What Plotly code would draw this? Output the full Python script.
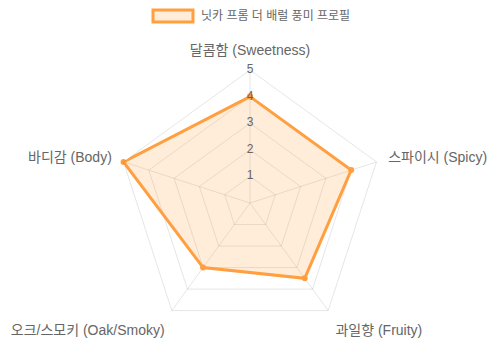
import plotly.graph_objects as go

categories = ["달콤함 (Sweetness)", "스파이시 (Spicy)", "과일향 (Fruity)", "오크/스모키 (Oak/Smoky)", "바디감 (Body)"]
values = [4, 4, 3.5, 3, 5]
series_name = "닛카 프롬 더 배럴 풍미 프로필"
tick_values = [1, 2, 3, 4, 5]
tick_labels = ["1", "2", "3", "4", "5"]

FONT = "Liberation Sans, Arial, Noto Sans CJK KR, sans-serif"
ORANGE = "rgb(255,159,64)"
FILL = "rgba(255,159,64,0.2)"
GRID = "rgba(0,0,0,0.1)"

# page body has an 8px margin; figure is sized to fit the window
OFF = 8
W, H = 500 - OFF, 357 - OFF


def px(x):
    return (x - OFF) / W


def py(y):
    return 1 - (y - OFF) / H


fig = go.Figure()
fig.add_trace(go.Scatterpolar(
    r=values + values[:1],
    theta=categories + categories[:1],
    mode="lines+markers",
    fill="toself",
    fillcolor=FILL,
    line=dict(color=ORANGE, width=3),
    marker=dict(color=ORANGE, size=6),
    name=series_name,
    showlegend=False,
    hoverinfo="skip",
))
fig.add_trace(go.Scatterpolar(
    r=tick_values,
    theta=[categories[0]] * len(tick_values),
    mode="text",
    text=tick_labels,
    textfont=dict(color="#666", size=12, family=FONT),
    showlegend=False,
    hoverinfo="skip",
))

cx, cy, R = 250, 203, 133
fig.update_layout(
    width=W, height=H,
    margin=dict(l=0, r=0, t=0, b=0),
    paper_bgcolor="white",
    plot_bgcolor="white",
    font=dict(family=FONT, color="#666", size=12),
    showlegend=False,
    polar=dict(
        domain=dict(x=[px(cx - R), px(cx + R)], y=[py(cy + R), py(cy - R)]),
        bgcolor="rgba(0,0,0,0)",
        gridshape="linear",
        radialaxis=dict(
            range=[0, 5], tickvals=tick_values, showticklabels=False,
            showline=False, ticks="", gridcolor=GRID, gridwidth=1, angle=90,
        ),
        angularaxis=dict(
            rotation=90, direction="clockwise",
            showline=True, linecolor=GRID, linewidth=1,
            gridcolor=GRID, ticks="outside", ticklen=9, tickcolor="rgba(0,0,0,0)",
            tickfont=dict(size=14, color="#666", family=FONT),
        ),
    ),
    shapes=[dict(
        type="rect", xref="paper", yref="paper",
        x0=px(153), x1=px(193), y0=py(22), y1=py(10),
        line=dict(color=ORANGE, width=3), fillcolor=FILL,
    )],
    annotations=[dict(
        text=series_name, xref="paper", yref="paper",
        x=px(199), y=py(16), xanchor="left", yanchor="middle",
        showarrow=False, font=dict(size=12, color="#666", family=FONT),
    )],
)
fig.write_html("out.html")
